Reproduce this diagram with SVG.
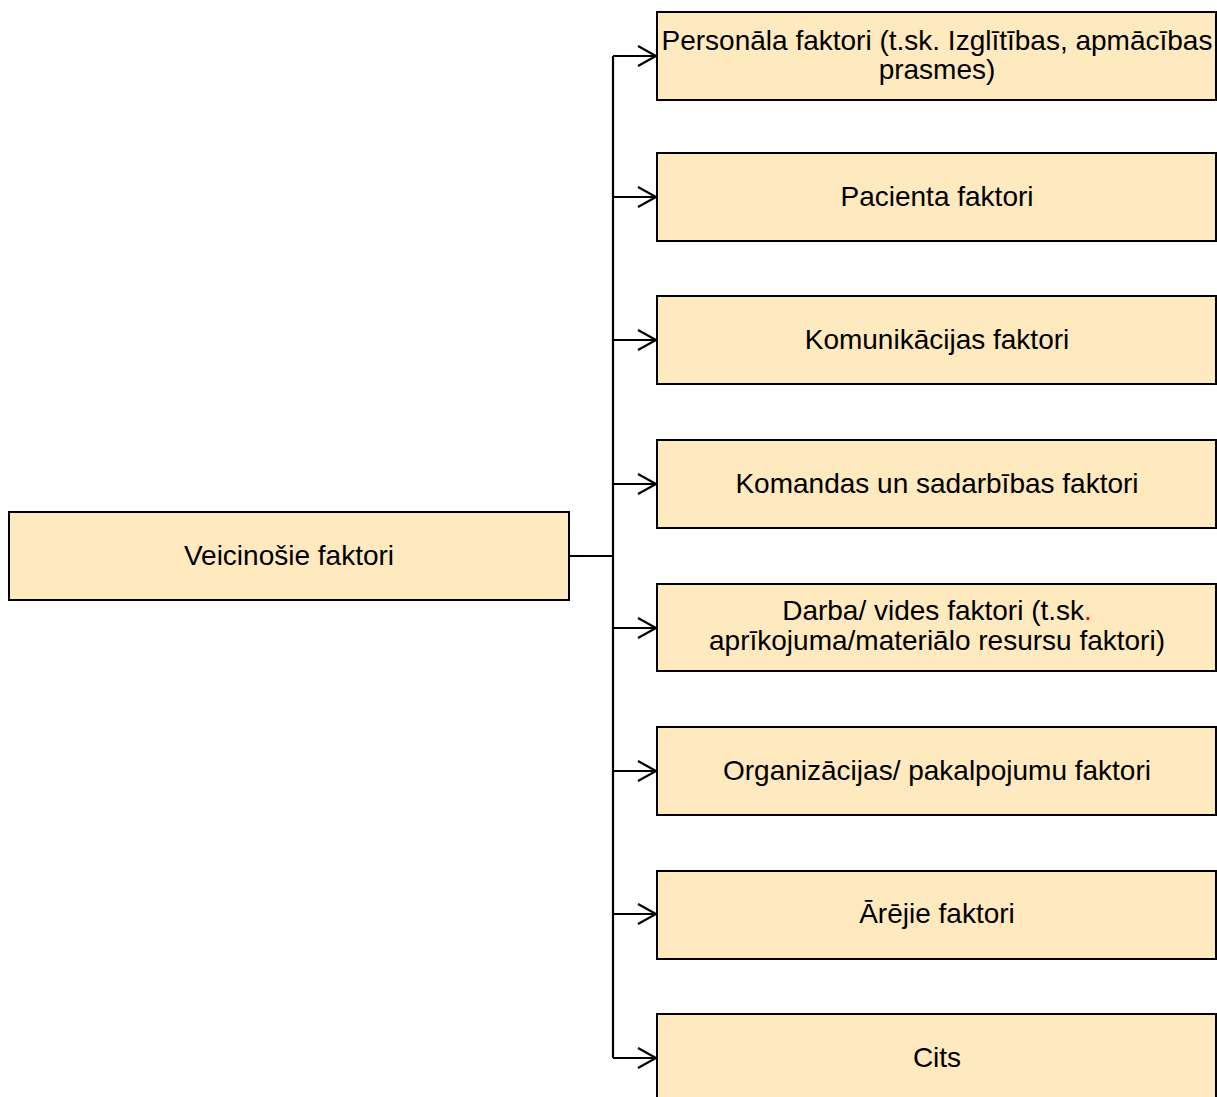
<svg xmlns="http://www.w3.org/2000/svg" width="1217" height="1097" viewBox="0 0 1217 1097">
<style>
.box{fill:#FFE9BF;stroke:#000;stroke-width:2}
.t{font-family:"Liberation Sans",Arial,sans-serif;font-size:28px;fill:#000;text-anchor:middle}
.c{fill:none;stroke:#000;stroke-width:2.2}
</style>
<rect width="1217" height="1097" fill="#fff"/>
<g id="connectors">
<polyline class="c" points="569,556 613,556"/>
<polyline class="c" points="613,56 613,1058"/>
<g id="arrows">
<path class="c" d="M613,56H655M638,46L656,56L638,66"/>
<path class="c" d="M613,197H655M638,187L656,197L638,207"/>
<path class="c" d="M613,340H655M638,330L656,340L638,350"/>
<path class="c" d="M613,484H655M638,474L656,484L638,494"/>
<path class="c" d="M613,628H655M638,618L656,628L638,638"/>
<path class="c" d="M613,771H655M638,761L656,771L638,781"/>
<path class="c" d="M613,914H655M638,904L656,914L638,924"/>
<path class="c" d="M613,1058H655M638,1048L656,1058L638,1068"/>
</g>
</g>
<g id="root"><rect class="box" x="9" y="512" width="560" height="88"/><text class="t" x="289" y="565">Veicinošie faktori</text></g>
<g id="n1"><rect class="box" x="657" y="12" width="559" height="88"/><text class="t" x="937" y="50">Personāla faktori (t.sk. Izglītības, apmācības</text><text class="t" x="937" y="79">prasmes)</text></g>
<g id="n2"><rect class="box" x="657" y="153" width="559" height="88"/><text class="t" x="937" y="206">Pacienta faktori</text></g>
<g id="n3"><rect class="box" x="657" y="296" width="559" height="88"/><text class="t" x="937" y="349">Komunikācijas faktori</text></g>
<g id="n4"><rect class="box" x="657" y="440" width="559" height="88"/><text class="t" x="937" y="493">Komandas un sadarbības faktori</text></g>
<g id="n5"><rect class="box" x="657" y="584" width="559" height="87"/><text class="t" x="937" y="620">Darba/ vides faktori (t.sk<tspan fill="#ff0000">.</tspan></text><text class="t" x="937" y="650">aprīkojuma/materiālo resursu faktori)</text></g>
<g id="n6"><rect class="box" x="657" y="727" width="559" height="88"/><text class="t" x="937" y="780">Organizācijas/ pakalpojumu faktori</text></g>
<g id="n7"><rect class="box" x="657" y="871" width="559" height="88"/><text class="t" x="937" y="923">Ārējie faktori</text></g>
<g id="n8"><rect class="box" x="657" y="1014" width="559" height="88"/><text class="t" x="937" y="1067">Cits</text></g>
</svg>
